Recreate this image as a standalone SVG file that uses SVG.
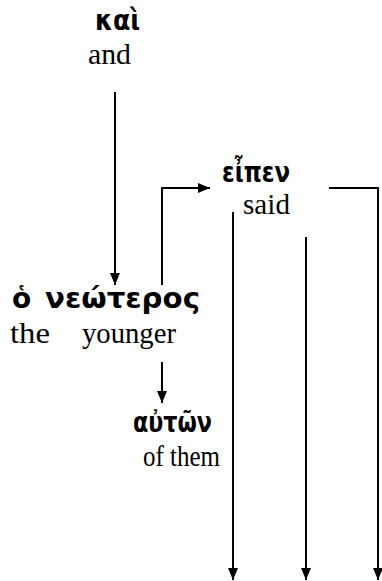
<svg xmlns="http://www.w3.org/2000/svg" width="382" height="581" viewBox="0 0 382 581">
<style>
.gk{font-family:"DejaVu Sans","Noto Sans",sans-serif;font-weight:bold;font-size:28px;fill:#000}
.en{font-family:"Liberation Serif","Times New Roman",serif;font-size:29px;fill:#000}
.ln{fill:none;stroke:#000;stroke-width:2}
</style>
<defs>
<marker id="ah" viewBox="0 0 12 12" refX="12" refY="6" markerWidth="12" markerHeight="12" markerUnits="userSpaceOnUse" orient="auto">
<path d="M0,1 L12,6 L0,11 Z" fill="#000"/>
</marker>
</defs>
<rect width="382" height="581" fill="#fff"/>
<g id="connectors">
<line class="ln" x1="115" y1="92" x2="115" y2="285" marker-end="url(#ah)"/>
<polyline class="ln" points="162,285 162,188 210,188" marker-end="url(#ah)"/>
<polyline class="ln" points="329,188 378,188 378,580" marker-end="url(#ah)"/>
<line class="ln" x1="233" y1="212" x2="233" y2="580" marker-end="url(#ah)"/>
<line class="ln" x1="306" y1="237" x2="306" y2="580" marker-end="url(#ah)"/>
<line class="ln" x1="162" y1="362" x2="162" y2="403" marker-end="url(#ah)"/>
</g>
<g id="node-kai">
<text class="gk" x="95" y="30" textLength="45" lengthAdjust="spacingAndGlyphs">καὶ</text>
<text class="en" x="88" y="64" textLength="43" lengthAdjust="spacingAndGlyphs">and</text>
</g>
<g id="node-eipen">
<text class="gk" x="222" y="182" textLength="68" lengthAdjust="spacingAndGlyphs">εἶπεν</text>
<text class="en" x="243" y="214" textLength="47" lengthAdjust="spacingAndGlyphs">said</text>
</g>
<g id="node-neoteros">
<text class="gk" x="12" y="308">ὁ</text>
<text class="gk" x="45" y="308" textLength="155" lengthAdjust="spacingAndGlyphs">νεώτερος</text>
<text class="en" x="10" y="343" textLength="40" lengthAdjust="spacingAndGlyphs">the</text>
<text class="en" x="82" y="343" textLength="94" lengthAdjust="spacingAndGlyphs">younger</text>
</g>
<g id="node-auton">
<text class="gk" x="133" y="432" textLength="79" lengthAdjust="spacingAndGlyphs">αὐτῶν</text>
<text class="en" x="143" y="466" textLength="77" lengthAdjust="spacingAndGlyphs">of them</text>
</g>
</svg>
